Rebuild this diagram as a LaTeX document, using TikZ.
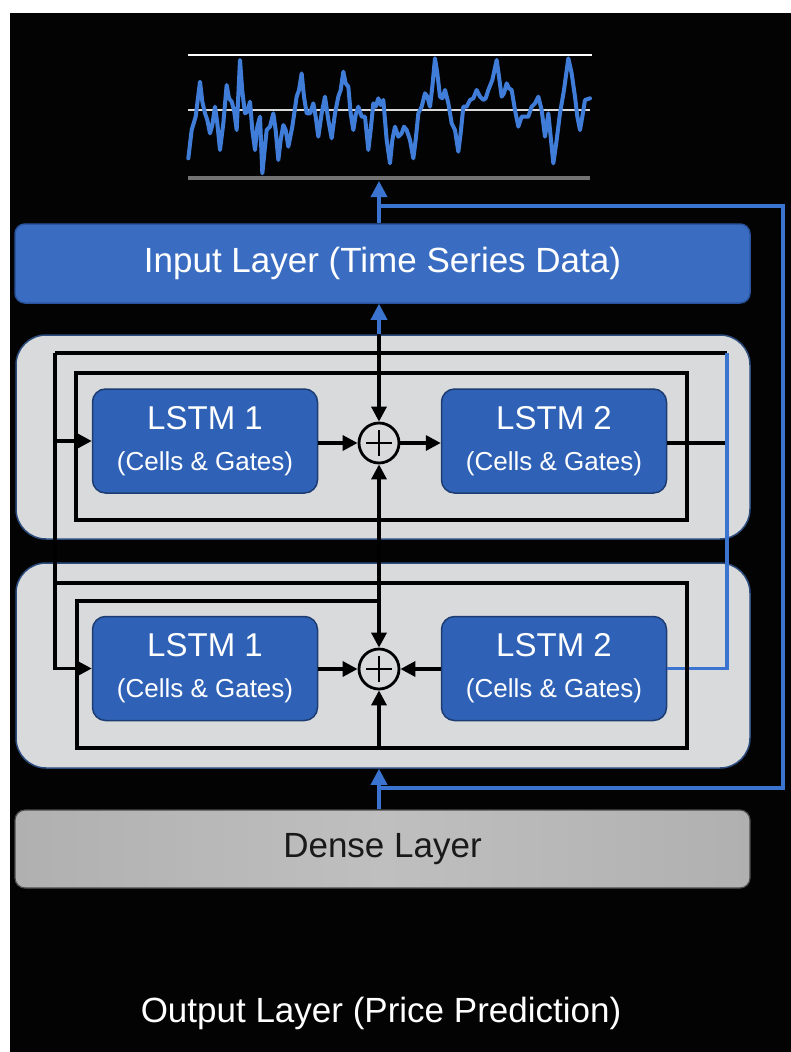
\documentclass[tikz,border=0pt]{standalone}
\usepackage{fontspec}
\setmainfont{Liberation Sans}
\usetikzlibrary{arrows.meta}
\definecolor{bgblack}{HTML}{030303}
\definecolor{inblue}{HTML}{3A6DC2}
\definecolor{inborder}{HTML}{2A559E}
\definecolor{lstmblue}{HTML}{2F62B6}
\definecolor{lstmborder}{HTML}{1C3C72}
\definecolor{blkgray}{HTML}{D9DADC}
\definecolor{blkborder}{HTML}{2C4C7E}
\definecolor{densegray}{HTML}{BFBFBF}
\definecolor{densedark}{HTML}{B0B0B0}
\definecolor{wireblue}{HTML}{3B74D0}
\definecolor{sigblue}{HTML}{3F7DD9}
\tikzset{
  layerbox/.style={rounded corners=10pt, inner sep=0pt, minimum width=735pt, minimum height=79pt,
    font=\fontsize{35pt}{40pt}\selectfont},
  blockbox/.style={draw=blkborder, line width=1.5pt, fill=blkgray, rounded corners=30pt,
    inner sep=0pt, minimum width=734pt},
  lstmbox/.style={draw=lstmborder, line width=1.5pt, fill=lstmblue, rounded corners=13pt,
    inner sep=0pt, minimum width=225pt, minimum height=104pt, text=white, align=center,
    font=\fontsize{26pt}{41pt}\selectfont},
  plusnode/.style={circle, draw=black, line width=2.8pt, fill=blkgray, minimum size=40pt, inner sep=0pt,
    path picture={\draw[line width=2.8pt] (path picture bounding box.center) +(-13pt,0pt) -- +(13pt,0pt)
      (path picture bounding box.center) +(0pt,-13pt) -- +(0pt,13pt);}},
  wire/.style={draw=black, line width=3.4pt},
  bwire/.style={draw=wireblue, line width=3.4pt},
  ktip/.style={-{Triangle[length=15pt,width=15pt]}},
  btip/.style={-{Triangle[length=16pt,width=16pt]}},
  signal/.style={draw=sigblue, line width=4pt, line join=round, line cap=round},
}
\newcommand{\lstmtext}[1]{{\fontsize{33pt}{41pt}\selectfont LSTM #1}\\(Cells \& Gates)}
\begin{document}
\begin{tikzpicture}[x=1pt,y=-1pt]
\useasboundingbox (0,0) rectangle (791,1052);
\fill[white] (0,0) rectangle (791,1052);
\fill[bgblack] (10,13) rectangle (791,1052);

% chart
\coordinate (ctl) at (188,55);  \coordinate (ctr) at (592,55);
\coordinate (cml) at (188,110); \coordinate (cmr) at (590,110);
\coordinate (cbl) at (188,178); \coordinate (cbr) at (590,178);
\draw[white, line width=2pt] (ctl) -- (ctr);
\draw[white!85!black, line width=2pt] (cml) -- (cmr);
\draw[white!45!black, line width=3.5pt] (cbl) -- (cbr);
\begin{scope}[shift={(185,30)}, scale=1/3]
\draw[signal] plot coordinates {(10,385) (20,300) (32,260) (45,155) (52,215) (60,250) (67,270) (75,310) (82,285) (90,230) (97,280) (105,360) (115,280) (125,165) (132,205) (140,215) (147,240) (155,300) (165,90) (172,185) (180,250) (187,245) (195,215) (202,300) (210,360) (217,290) (225,260) (232,430) (245,300) (255,290) (265,250) (272,300) (280,390) (287,330) (295,285) (302,300) (310,350) (322,290) (335,200) (342,180) (350,130) (357,200) (365,250) (375,250) (385,220) (392,260) (400,320) (410,250) (420,200) (430,270) (440,325) (450,250) (460,200) (467,180) (475,125) (482,160) (490,170) (497,250) (505,300) (512,255) (520,230) (530,260) (540,260) (550,360) (557,300) (565,220) (572,230) (580,205) (587,225) (595,210) (605,330) (615,400) (622,330) (630,290) (640,320) (650,310) (657,290) (665,300) (675,330) (685,385) (692,330) (700,250) (710,230) (720,190) (727,200) (735,230) (742,170) (750,85) (757,130) (765,200) (772,205) (780,180) (790,220) (800,280) (810,300) (820,365) (827,310) (835,230) (845,230) (855,210) (865,205) (875,180) (885,200) (895,210) (902,205) (910,180) (922,150) (935,90) (942,140) (950,200) (957,190) (965,160) (972,175) (980,180) (990,240) (1000,290) (1010,260) (1020,260) (1030,260) (1040,230) (1050,220) (1060,200) (1070,240) (1080,320) (1090,250) (1097,320) (1105,400) (1115,330) (1125,250) (1137,180) (1150,85) (1160,130) (1170,200) (1177,260) (1185,300) (1192,260) (1200,210) (1215,205)};
\end{scope}

% layers
\node[layerbox, draw=inborder, line width=1.5pt, fill=inblue, text=white] (input) at (382.5,263.5) {Input Layer (Time Series Data)};
\node[blockbox, minimum height=204pt] (blkA) at (383,437) {};
\node[blockbox, minimum height=205pt] (blkB) at (383,665.5) {};
\node[layerbox, draw=black!70, line width=1.2pt, left color=densedark, right color=densedark, middle color=densegray, text=black!90, minimum height=78pt] (dense) at (382.5,849) {Dense Layer};
\node[text=white, font=\fontsize{35pt}{40pt}\selectfont] (output) at (381,1013) {Output Layer (Price Prediction)};

% LSTM cells
\node[lstmbox] (l1a) at (205,441) {\lstmtext{1}};
\node[lstmbox] (l2a) at (554,441) {\lstmtext{2}};
\node[lstmbox] (l1b) at (205,668.5) {\lstmtext{1}};
\node[lstmbox] (l2b) at (554,668.5) {\lstmtext{2}};
\node[plusnode] (pa) at (379,443) {};
\node[plusnode] (pb) at (379,669) {};

% wire corners
\coordinate (otl) at (55,353);
\coordinate (otr) at (727,353);
\coordinate (ia1) at (76,373);
\coordinate (ia2) at (687,520);
\coordinate (btl) at (55,583);
\coordinate (btr) at (687,583);
\coordinate (bbr) at (687,748);
\coordinate (bbl) at (77,748);
\coordinate (bil) at (77,601);
\coordinate (loopl) at (379,788);
\coordinate (loopr) at (783,788);
\coordinate (loopt) at (783,206);
\coordinate (loopj) at (379,206);
\coordinate (charttip) at (379,181);

% block A wires
\draw[wire] (ia1) rectangle (ia2);
\draw[wire] (otr) -- (otl);
\draw[wire, ktip] (otl) |- (l1b.west);
\draw[wire, ktip] (otl |- l1a.west) -- (l1a.west);
\draw[wire, ktip] (l1a.east |- pa) -- (pa.west);
\draw[wire, ktip] (pa.east) -- (l2a.west |- pa);
\draw[wire, ktip] (pa |- blkA.north) -- (pa.north);
\draw[wire, ktip] (pa |- ia2) -- (pa.south);
\draw[wire] (l2a.east |- pa) -- (otr |- pa);
\draw[bwire] (otr) |- (l2b.east);

% block B wires
\draw[wire] (btl) -- (btr) -- (bbr) -- (bbl) -- (bil) -- (pb |- bil);
\draw[wire, ktip] (pa |- ia2) -- (pb.north);
\draw[wire, ktip] (pb |- bbl) -- (pb.south);
\draw[wire, ktip] (l1b.east |- pb) -- (pb.west);
\draw[wire, ktip] (l2b.west |- pb) -- (pb.east);

% blue flow
\draw[bwire, btip] (pa |- blkA.north) -- (pa |- input.south);
\draw[bwire, btip] (pa |- input.north) -- (charttip);
\draw[bwire, btip] (pa |- dense.north) -- (pa |- blkB.south);
\draw[bwire] (loopl) -- (loopr) -- (loopt) -- (loopj);
\end{tikzpicture}
\end{document}
